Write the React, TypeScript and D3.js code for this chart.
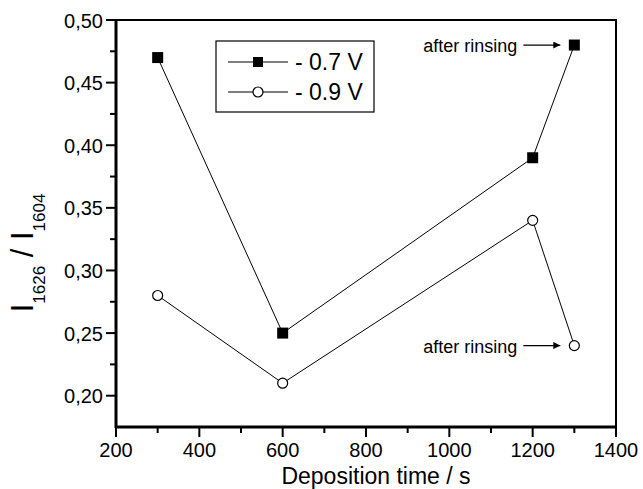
import * as d3 from "d3";
import React, { useEffect, useRef } from "react";

// data
const times = [300, 600, 1200, 1300];
const series07 = [0.47, 0.25, 0.39, 0.48];
const series09 = [0.28, 0.21, 0.34, 0.24];
const legendLabels = ["- 0.7 V", "- 0.9 V"];
const xTicks = [200, 400, 600, 800, 1000, 1200, 1400];
const yTicks = [0.2, 0.25, 0.3, 0.35, 0.4, 0.45, 0.5];
const noteText = "after rinsing";

function Grafica() {
  const ref = useRef<SVGSVGElement>(null);

  useEffect(() => {
    const svg = d3.select(ref.current);
    svg.selectAll("*").remove();

    const left = 116, right = 616, top = 20, bottom = 427;
    const x = d3.scaleLinear().domain([200, 1400]).range([left, right]);
    const y = d3.scaleLinear().domain([0.175, 0.5]).range([bottom, top]);
    const font = "Liberation Sans, Arial, sans-serif";

    svg
      .append("defs")
      .append("marker")
      .attr("id", "arrow")
      .attr("viewBox", "0 0 10 10")
      .attr("refX", 10)
      .attr("refY", 5)
      .attr("markerWidth", 9)
      .attr("markerHeight", 7)
      .attr("markerUnits", "userSpaceOnUse")
      .attr("orient", "auto")
      .append("path")
      .attr("d", "M0,0 L10,5 L0,10 z")
      .attr("fill", "#000");

    // frame top/right
    svg
      .append("path")
      .attr("d", `M${left},${top} H${right} V${bottom}`)
      .attr("fill", "none")
      .attr("stroke", "#000")
      .attr("stroke-width", 2);

    // x axis
    const xMinor = d3.range(300, 1400, 200);
    const gx = svg.append("g").attr("transform", `translate(0,${bottom})`);
    gx.append("line").attr("x1", left - 1).attr("x2", right + 1).attr("stroke", "#000").attr("stroke-width", 3);
    gx.selectAll(".maj").data(xTicks).enter().append("line")
      .attr("x1", (d) => x(d)).attr("x2", (d) => x(d)).attr("y1", 0).attr("y2", 10)
      .attr("stroke", "#000").attr("stroke-width", 2);
    gx.selectAll(".min").data(xMinor).enter().append("line")
      .attr("x1", (d) => x(d)).attr("x2", (d) => x(d)).attr("y1", 0).attr("y2", 6)
      .attr("stroke", "#000").attr("stroke-width", 2);
    gx.selectAll("text").data(xTicks).enter().append("text")
      .attr("x", (d) => x(d)).attr("y", 30)
      .attr("text-anchor", "middle")
      .attr("font-family", font).attr("font-size", 20)
      .text((d) => d);

    // y axis
    const yMinor = d3.range(0.225, 0.5, 0.05);
    const gy = svg.append("g").attr("transform", `translate(${left},0)`);
    gy.append("line").attr("y1", top - 1).attr("y2", bottom + 1).attr("stroke", "#000").attr("stroke-width", 3);
    gy.selectAll(".maj").data(yTicks).enter().append("line")
      .attr("y1", (d) => y(d)).attr("y2", (d) => y(d)).attr("x1", 0).attr("x2", -10)
      .attr("stroke", "#000").attr("stroke-width", 2);
    gy.selectAll(".min").data(yMinor).enter().append("line")
      .attr("y1", (d) => y(d)).attr("y2", (d) => y(d)).attr("x1", 0).attr("x2", -6)
      .attr("stroke", "#000").attr("stroke-width", 2);
    gy.selectAll("text").data(yTicks).enter().append("text")
      .attr("x", -13).attr("y", (d) => y(d) + 7.5)
      .attr("text-anchor", "end")
      .attr("font-family", font).attr("font-size", 20)
      .text((d) => d3.format(".2f")(d).replace(".", ","));

    // axis titles
    svg.append("text")
      .attr("x", (left + right) / 2 + 10).attr("y", 484)
      .attr("text-anchor", "middle")
      .attr("font-family", font).attr("font-size", 23)
      .text("Deposition time / s");

    const yl = svg.append("text")
      .attr("transform", `translate(33,253) rotate(-90)`)
      .attr("text-anchor", "middle")
      .attr("font-family", font).attr("font-size", 31);
    yl.append("tspan").text("I");
    yl.append("tspan").attr("font-size", 17).attr("dy", 12).text("1626");
    yl.append("tspan").attr("dy", -12).text(" / I");
    yl.append("tspan").attr("font-size", 17).attr("dy", 12).text("1604");

    const line = d3.line<number>().x((_, i) => x(times[i])).y((d) => y(d));

    // -0.7 V
    svg.append("path").attr("d", line(series07)).attr("fill", "none").attr("stroke", "#000").attr("stroke-width", 1);
    svg.selectAll(".sq").data(series07).enter().append("rect")
      .attr("x", (_, i) => x(times[i]) - 5.5).attr("y", (d) => y(d) - 5.5)
      .attr("width", 11).attr("height", 11).attr("fill", "#000");

    // -0.9 V
    svg.append("path").attr("d", line(series09)).attr("fill", "none").attr("stroke", "#000").attr("stroke-width", 1);
    svg.selectAll(".ci").data(series09).enter().append("circle")
      .attr("cx", (_, i) => x(times[i])).attr("cy", (d) => y(d)).attr("r", 5)
      .attr("fill", "#fff").attr("stroke", "#000").attr("stroke-width", 1.2);

    // annotations
    [series07[3], series09[3]].forEach((v) => {
      const cy = y(v);
      const ax = x(times[3]) - 14;
      svg.append("line")
        .attr("x1", ax - 37).attr("x2", ax).attr("y1", cy).attr("y2", cy)
        .attr("stroke", "#000").attr("stroke-width", 1.2)
        .attr("marker-end", "url(#arrow)");
      svg.append("text")
        .attr("x", ax - 43).attr("y", cy + 7)
        .attr("text-anchor", "end")
        .attr("font-family", font).attr("font-size", 18)
        .text(noteText);
    });

    // legend
    const lg = svg.append("g");
    lg.append("rect").attr("x", 216).attr("y", 41).attr("width", 158).attr("height", 71)
      .attr("fill", "#fff").attr("stroke", "#000").attr("stroke-width", 1.2);
    legendLabels.forEach((lab, i) => {
      const ly = 62 + i * 30;
      lg.append("line").attr("x1", 228).attr("x2", 288).attr("y1", ly).attr("y2", ly)
        .attr("stroke", "#000").attr("stroke-width", 1.2);
      if (i === 0) {
        lg.append("rect").attr("x", 253).attr("y", ly - 5).attr("width", 10).attr("height", 10).attr("fill", "#000");
      } else {
        lg.append("circle").attr("cx", 258).attr("cy", ly).attr("r", 5)
          .attr("fill", "#fff").attr("stroke", "#000").attr("stroke-width", 1.2);
      }
      lg.append("text").attr("x", 295).attr("y", ly + 8)
        .attr("font-family", font).attr("font-size", 23)
        .text(lab);
    });
  }, []);

  return <svg ref={ref} width={643} height={489} style={{ display: "block", background: "#fff" }} />;
}

export default function App() {
  return (
    <div style={{ position: "fixed", left: 0, top: 0, width: 643, height: 489 }}>
      <Grafica />
    </div>
  );
}
